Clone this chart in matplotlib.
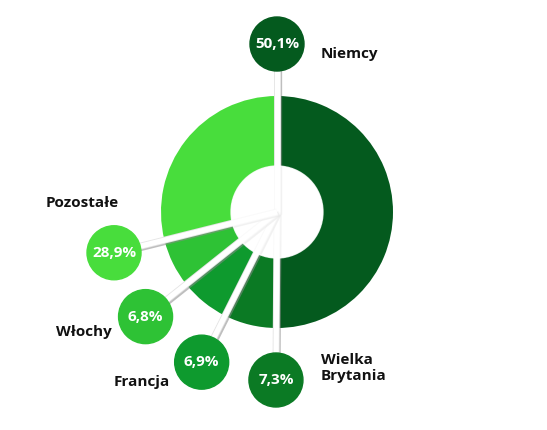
import matplotlib.pyplot as plt
import matplotlib.patheffects as pe
import numpy as np

# data
labels = ["Niemcy", "Wielka\nBrytania", "Francja", "Włochy", "Pozostałe"]
values = [50.1, 7.3, 6.9, 6.8, 28.9]
pct_text = ["50,1%", "7,3%", "6,9%", "6,8%", "28,9%"]
colors = ["#045a1e", "#0b7a24", "#0e9a2e", "#2ec235", "#48dd3c"]

W, H = 547, 430
cx, cy = 277, H - 212      # donut centre (y measured from bottom)
r_out, r_in = 116, 46
r_lab = 168                 # distance of the label bubbles
r_bub = 27

# label placement relative to bubble: (dx, dy, ha)
lab_off = [(44, -10, "left"), (45, 12, "left"), (-32, -20, "right"),
           (-34, -15, "right"), (5, 50, "right")]

plt.rcParams['font.family'] = ['Open Sans', 'DejaVu Sans']

fig = plt.figure(figsize=(W / 100, H / 100), dpi=100)
ax = fig.add_axes([0, 0, 1, 1])

wedges, _ = ax.pie(values, colors=colors, startangle=90, counterclock=False,
                   center=(cx, cy), radius=r_out,
                   wedgeprops=dict(width=r_out - r_in, linewidth=0))
ax.set_xlim(0, W)
ax.set_ylim(0, H)
ax.set_aspect('equal')
ax.axis('off')

# white connector with a soft grey edge and a shadow to the lower right
line_fx = [pe.SimpleLineShadow(offset=(1.4, -1.4), shadow_color='#8a8a8a', alpha=0.55),
           pe.Stroke(linewidth=5.0, foreground='#e4e4e4'),
           pe.Normal()]

for i, w in enumerate(wedges):
    ang = np.deg2rad(w.theta2)   # clockwise start of the slice
    bx = cx + r_lab * np.cos(ang)
    by = cy + r_lab * np.sin(ang)
    ax.plot([cx, bx], [cy, by], color='white', lw=3.8, solid_capstyle='butt',
            zorder=3, path_effects=line_fx)
    ax.add_patch(plt.Circle((bx, by), r_bub, color=colors[i], zorder=5))
    ax.text(bx, by, pct_text[i], color='white', fontsize=11, fontweight='bold',
            ha='center', va='center', zorder=6)
    dx, dy, ha = lab_off[i]
    ax.text(bx + dx, by + dy, labels[i], color='#111111', fontsize=11,
            fontweight='bold', ha=ha, va='center', linespacing=1.2, zorder=6)

# inner hole drawn over the lines so they only show faintly there
ax.add_patch(plt.Circle((cx, cy), r_in, color='white', alpha=0.8, zorder=4))

fig.savefig("out.png", dpi=100)
